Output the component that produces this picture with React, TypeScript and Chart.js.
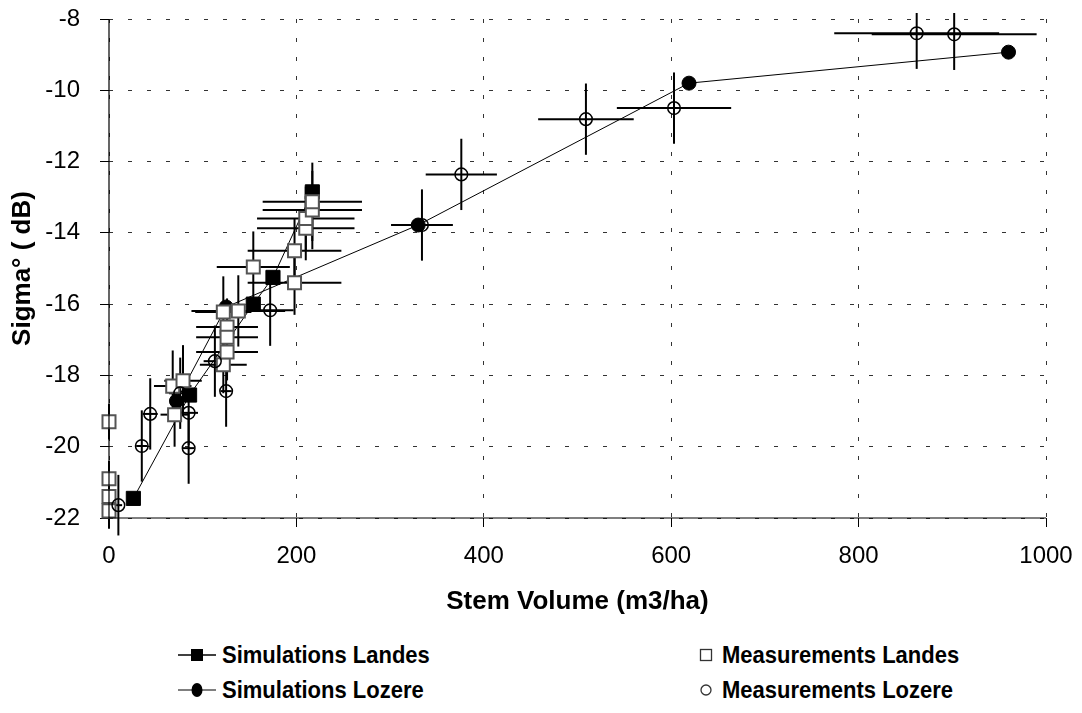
import React, { useEffect, useRef } from "react";
import { Chart, registerables } from "chart.js";

Chart.register(...registerables);

// ---- data ----
const xTickValues = [0, 200, 400, 600, 800, 1000];
const yTickValues = [-22, -20, -18, -16, -14, -12, -10, -8];

const simLandesX = [26, 86, 154, 175, 217];
const simLandesY = [-21.45, -18.55, -16.0, -15.25, -12.85];

const simLozereX = [72, 125, 330, 619, 960];
const simLozereY = [-18.72, -16.08, -13.78, -9.8, -8.93];

const measLandesX = [0, 0, 0, 0, 68, 70, 79, 122, 122, 126, 126, 126, 138, 154, 198, 198, 210, 210, 217, 217];
const measLandesY = [-19.3, -20.9, -21.4, -21.8, -18.3, -19.1, -18.15, -16.22, -17.7, -16.64, -16.93, -17.34, -16.19, -14.96, -14.5, -15.4, -13.87, -13.6, -13.36, -13.13];
const measLandesErrX = [0, 0, 0, 0, 20, 15, 20, 30, 25, 33, 33, 33, 50, 39, 50, 50, 52, 52, 53, 53];
const measLandesErrY = [0.5, 0.5, 0.5, 0.5, 1.0, 0.9, 1.0, 1.0, 0.8, 0.8, 0.8, 0.8, 1.0, 1.0, 0.9, 0.9, 0.9, 0.9, 1.1, 1.1];

const measLozereX = [10, 35, 44, 76, 85, 85, 113, 125, 172, 334, 376, 509, 603, 862, 902];
const measLozereY = [-21.64, -19.98, -19.08, -18.5, -19.05, -20.04, -17.6, -18.44, -16.17, -13.78, -12.36, -10.81, -10.5, -8.4, -8.43];
const measLozereErrX = [4, 6, 8, 12, 10, 6, 12, 6, 25, 33, 38, 51, 61, 88, 88];
const measLozereErrY = [0.85, 1.0, 1.0, 1.0, 0.9, 1.0, 1.0, 1.0, 1.0, 1.0, 1.0, 1.0, 1.0, 1.0, 1.0];

const legendLabels = ["Simulations Landes", "Measurements Landes", "Simulations Lozere", "Measurements Lozere"];
const xTitle = "Stem Volume (m3/ha)";
const yTitle = "Sigma\u00b0 ( dB)";

const FONT = "'Liberation Sans', Arial, Helvetica, sans-serif";

const toPoints = (xs: number[], ys: number[]) => xs.map((x, i) => ({ x, y: ys[i] }));

const errorBarPlugin = {
  id: "errorBars",
  beforeDatasetsDraw(chart: any) {
    const ctx = chart.ctx;
    const xs = chart.scales.x;
    const ys = chart.scales.y;
    const area = chart.chartArea;
    ctx.save();
    // bars may run a little past the plot frame, as in the original
    ctx.beginPath();
    ctx.rect(area.left - 20, area.top - 6, area.right - area.left + 40, area.bottom - area.top + 30);
    ctx.clip();
    ctx.strokeStyle = "#000";
    ctx.lineWidth = 2;
    ctx.setLineDash([]);
    chart.data.datasets.forEach((ds: any) => {
      const ex: number[] | undefined = ds.errX;
      const ey: number[] | undefined = ds.errY;
      if (!ex && !ey) return;
      ds.data.forEach((p: any, j: number) => {
        const px = xs.getPixelForValue(p.x);
        const py = ys.getPixelForValue(p.y);
        if (ex && ex[j]) {
          ctx.beginPath();
          ctx.moveTo(xs.getPixelForValue(p.x - ex[j]), py);
          ctx.lineTo(xs.getPixelForValue(p.x + ex[j]), py);
          ctx.stroke();
        }
        if (ey && ey[j]) {
          ctx.beginPath();
          ctx.moveTo(px, ys.getPixelForValue(p.y - ey[j]));
          ctx.lineTo(px, ys.getPixelForValue(p.y + ey[j]));
          ctx.stroke();
        }
      });
    });
    ctx.restore();
  },
};

// solid axis lines on the left and bottom
const axisLinePlugin = {
  id: "axisLines",
  afterDraw(chart: any) {
    const { ctx, chartArea } = chart;
    ctx.save();
    ctx.setLineDash([]);
    ctx.strokeStyle = "#000";
    ctx.lineWidth = 1.2;
    ctx.beginPath();
    ctx.moveTo(chartArea.left, chartArea.top);
    ctx.lineTo(chartArea.left, chartArea.bottom);
    ctx.lineTo(chartArea.right, chartArea.bottom);
    ctx.stroke();
    ctx.restore();
  },
};

function LegendItem(props: { left: number; top: number; label: string; kind: string }) {
  const { left, top, label, kind } = props;
  let marker: React.ReactNode = null;
  if (kind === "simSquare") {
    marker = (
      <svg width={40} height={20} style={{ display: "block" }}>
        <line x1={0} y1={10} x2={38} y2={10} stroke="#000" strokeWidth={1.5} />
        <rect x={13} y={4} width={12} height={12} fill="#000" />
      </svg>
    );
  } else if (kind === "simCircle") {
    marker = (
      <svg width={40} height={20} style={{ display: "block" }}>
        <line x1={0} y1={10} x2={38} y2={10} stroke="#555" strokeWidth={1.5} />
        <ellipse cx={19} cy={10} rx={5.5} ry={7} fill="#000" />
      </svg>
    );
  } else if (kind === "measSquare") {
    marker = (
      <svg width={20} height={20} style={{ display: "block" }}>
        <rect x={4.5} y={4.5} width={11} height={11} fill="#fff" stroke="#333" strokeWidth={1.3} />
      </svg>
    );
  } else {
    marker = (
      <svg width={20} height={20} style={{ display: "block" }}>
        <circle cx={10} cy={10} r={5} fill="#fff" stroke="#333" strokeWidth={1.3} />
      </svg>
    );
  }
  return (
    <div
      style={{
        position: "absolute",
        left,
        top,
        height: 30,
        display: "flex",
        alignItems: "center",
        gap: kind.startsWith("sim") ? 4 : 6,
        whiteSpace: "nowrap",
      }}
    >
      {marker}
      <span
        style={{
          fontFamily: FONT,
          fontWeight: "bold",
          fontSize: 22,
          color: "#000",
          display: "inline-block",
          transform: "scaleY(1.12)",
        }}
      >
        {label}
      </span>
    </div>
  );
}

const gridOpts = {
  color: "#333",
  lineWidth: 1,
  tickLength: 9,
  tickBorderDash: [],
  tickColor: "#000",
  tickWidth: 1,
};

export default function App() {
  const canvasRef = useRef<HTMLCanvasElement | null>(null);

  useEffect(() => {
    if (!canvasRef.current) return;
    const chart = new Chart(canvasRef.current, {
      type: "scatter",
      data: {
        datasets: [
          {
            label: legendLabels[3],
            data: toPoints(measLozereX, measLozereY),
            errX: measLozereErrX,
            errY: measLozereErrY,
            showLine: false,
            pointStyle: "circle",
            pointRadius: 6.3,
            pointBackgroundColor: "rgba(0,0,0,0)",
            pointBorderColor: "#000",
            pointBorderWidth: 1.5,
            clip: false,
            order: 0,
          } as any,
          {
            label: legendLabels[1],
            data: toPoints(measLandesX, measLandesY),
            errX: measLandesErrX,
            errY: measLandesErrY,
            showLine: false,
            pointStyle: "rect",
            pointRadius: 9.2,
            pointBackgroundColor: "#fff",
            pointBorderColor: "#555",
            pointBorderWidth: 2,
            clip: false,
            order: 1,
          } as any,
          {
            label: legendLabels[2],
            data: toPoints(simLozereX, simLozereY),
            showLine: true,
            borderColor: "#000",
            borderWidth: 1,
            pointStyle: "circle",
            pointRadius: 7,
            pointBackgroundColor: "#000",
            pointBorderColor: "#000",
            pointBorderWidth: 1,
            clip: false,
            order: 2,
          } as any,
          {
            label: legendLabels[0],
            data: toPoints(simLandesX, simLandesY),
            showLine: true,
            borderColor: "#000",
            borderWidth: 1,
            pointStyle: "rect",
            pointRadius: 10,
            pointBackgroundColor: "#000",
            pointBorderColor: "#000",
            pointBorderWidth: 1,
            clip: false,
            order: 3,
          } as any,
        ],
      },
      options: {
        animation: false,
        responsive: true,
        maintainAspectRatio: false,
        layout: { padding: { left: 10, right: 36, top: 19, bottom: 0 } },
        plugins: {
          legend: { display: false },
          tooltip: { enabled: false },
          title: { display: false },
        },
        scales: {
          x: {
            type: "linear",
            min: 0,
            max: 1000,
            afterFit: (s: any) => {
              s.height = 97;
              s.paddingLeft = 0;
              s.paddingRight = 0;
            },
            afterBuildTicks: (s: any) => {
              s.ticks = xTickValues.map((v) => ({ value: v }));
            },
            ticks: {
              color: "#000",
              padding: 15,
              maxRotation: 0,
              font: { family: FONT, size: 24 },
              callback: (v: any) => String(v),
            },
            grid: gridOpts,
            border: { display: false, dash: [4, 15] },
            title: {
              display: true,
              text: xTitle,
              color: "#000",
              padding: { top: 0, bottom: 0 },
              font: { family: FONT, size: 26, weight: "bold", lineHeight: 1 },
            },
          },
          y: {
            type: "linear",
            min: -22,
            max: -8,
            afterFit: (s: any) => {
              s.width = 99;
              s.paddingTop = 0;
              s.paddingBottom = 0;
            },
            afterBuildTicks: (s: any) => {
              s.ticks = yTickValues.map((v) => ({ value: v }));
            },
            ticks: {
              color: "#000",
              padding: 20,
              font: { family: FONT, size: 24 },
              callback: (v: any) => String(v),
            },
            grid: gridOpts,
            border: { display: false, dash: [4, 15] },
            title: {
              display: true,
              text: yTitle,
              color: "#000",
              padding: { top: 0, bottom: 0 },
              font: { family: FONT, size: 26, weight: "bold", lineHeight: 1 },
            },
          },
        },
      } as any,
      plugins: [errorBarPlugin, axisLinePlugin],
    });
    return () => chart.destroy();
  }, []);

  return (
    <div style={{ position: "absolute", left: 0, top: 0, width: 1082, height: 713, background: "#fff" }}>
      <div style={{ position: "absolute", left: 0, top: 0, width: 1082, height: 615 }}>
        <canvas ref={canvasRef} />
      </div>
      <LegendItem left={178} top={640} label={legendLabels[0]} kind="simSquare" />
      <LegendItem left={696} top={640} label={legendLabels[1]} kind="measSquare" />
      <LegendItem left={178} top={675} label={legendLabels[2]} kind="simCircle" />
      <LegendItem left={696} top={675} label={legendLabels[3]} kind="measCircle" />
    </div>
  );
}
